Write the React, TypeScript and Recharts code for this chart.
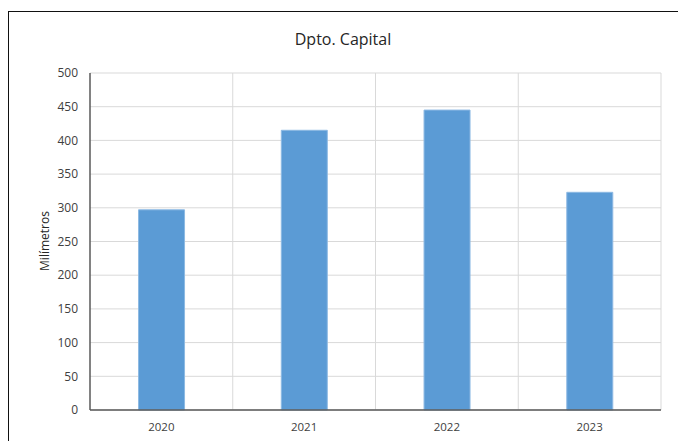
import { BarChart, Bar, XAxis, YAxis, CartesianGrid } from 'recharts'

const years = ['2020', '2021', '2022', '2023']
const rainfall = [297, 415, 445, 323]
const yTicks = [0, 50, 100, 150, 200, 250, 300, 350, 400, 450, 500]

const data = years.map((year, i) => ({ year, value: rainfall[i] }))

const font = '"Open Sans", "Noto Sans", sans-serif'

export default function App() {
  return (
    <div style={{ position: 'absolute', left: 0, top: 0, width: 678, height: 441, background: '#fff', fontFamily: font }}>
      {/* chart frame (only left and top edges visible) */}
      <div
        style={{
          position: 'absolute',
          left: 8,
          top: 11,
          width: 670,
          height: 430,
          borderLeft: '1.5px solid #111',
          borderTop: '1.5px solid #111',
        }}
      />
      <div
        style={{
          position: 'absolute',
          left: 0,
          width: 686,
          top: 28,
          textAlign: 'center',
          fontSize: 16,
          color: '#262626',
        }}
      >
        Dpto. Capital
      </div>
      <div
        style={{
          position: 'absolute',
          left: 44,
          top: 241,
          transform: 'translate(-50%, -50%) rotate(-90deg)',
          fontSize: 12,
          color: '#262626',
          whiteSpace: 'nowrap',
        }}
      >
        Milímetros
      </div>
      <div style={{ position: 'absolute', left: 0, top: 0 }}>
        <BarChart
          width={678}
          height={441}
          data={data}
          margin={{ top: 73, right: 17, bottom: 1, left: 0 }}
          barCategoryGap="34%"
        >
          <CartesianGrid
            stroke="#d9d9d9"
            verticalCoordinatesGenerator={({ offset }: any) => {
              const step = offset.width / years.length
              return years.map((_, i) => offset.left + step * (i + 1))
            }}
          />
          <XAxis
            dataKey="year"
            tickLine={false}
            tickSize={0}
            tickMargin={13}
            axisLine={{ stroke: '#595959', strokeWidth: 1.5 }}
            tick={{ fill: '#404040', fontSize: 11.5, fontFamily: font }}
          />
          <YAxis
            width={90}
            domain={[0, 500]}
            ticks={yTicks}
            interval={0}
            tickLine={false}
            tickSize={0}
            tickMargin={12}
            axisLine={{ stroke: '#595959', strokeWidth: 1.5 }}
            tick={{ fill: '#404040', fontSize: 12, fontFamily: font }}
          />
          <Bar dataKey="value" fill="#5b9bd5" stroke="#8db9e3" strokeWidth={1} isAnimationActive={false} />
        </BarChart>
      </div>
    </div>
  )
}
